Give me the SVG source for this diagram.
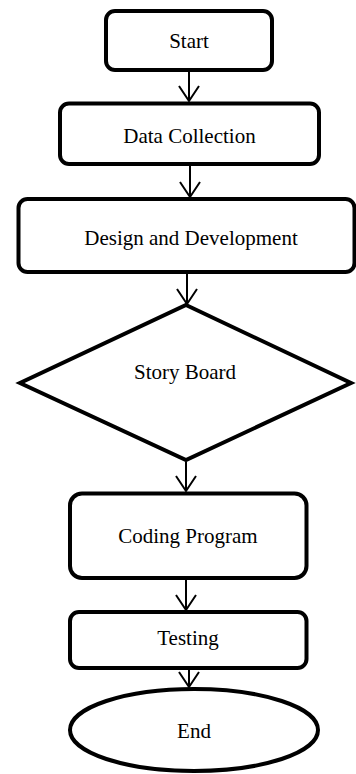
<svg xmlns="http://www.w3.org/2000/svg" width="356" height="774" viewBox="0 0 356 774">
  <style>
    .box { fill: #ffffff; stroke: #000000; stroke-width: 4; }
    .lbl { font-family: "Liberation Serif", "Times New Roman", serif; font-size: 21px; fill: #000000; text-anchor: middle; }
    .edge { fill: none; stroke: #000000; stroke-width: 2; }
  </style>
  <defs>
    <marker id="vhead" markerUnits="userSpaceOnUse" markerWidth="22" markerHeight="24" viewBox="0 0 22 24" refX="17" refY="11" orient="auto">
      <path d="M2,1 L17,11 L2,21" fill="none" stroke="#000000" stroke-width="2"/>
    </marker>
  </defs>
  <rect width="356" height="774" fill="#ffffff"/>

  <g id="connectors">
    <line class="edge" x1="189" y1="72" x2="189" y2="101" marker-end="url(#vhead)"/>
    <line class="edge" x1="190" y1="166" x2="190" y2="197" marker-end="url(#vhead)"/>
    <line class="edge" x1="187" y1="274" x2="187" y2="304" marker-end="url(#vhead)"/>
    <line class="edge" x1="186" y1="462" x2="186" y2="491" marker-end="url(#vhead)"/>
    <line class="edge" x1="186" y1="580" x2="186" y2="610" marker-end="url(#vhead)"/>
    <line class="edge" x1="189" y1="670" x2="189" y2="687" marker-end="url(#vhead)"/>
  </g>

  <g id="start">
    <rect class="box" x="106" y="11" width="166" height="59" rx="9"/>
    <text class="lbl" x="189" y="48">Start</text>
  </g>

  <g id="data-collection">
    <rect class="box" x="60" y="103.5" width="259" height="60.5" rx="9"/>
    <text class="lbl" x="189.5" y="143">Data Collection</text>
  </g>

  <g id="design-development">
    <rect class="box" x="18.5" y="199" width="336" height="73" rx="9"/>
    <text class="lbl" x="191" y="245">Design and Development</text>
  </g>

  <g id="story-board">
    <polygon class="box" points="186,305 351,383 186,460 20,383" stroke-linejoin="miter"/>
    <text class="lbl" x="185" y="379">Story Board</text>
  </g>

  <g id="coding-program">
    <rect class="box" x="70" y="493.5" width="236.5" height="84.5" rx="12"/>
    <text class="lbl" x="188" y="543">Coding Program</text>
  </g>

  <g id="testing">
    <rect class="box" x="70" y="612" width="236.5" height="56" rx="9"/>
    <text class="lbl" x="188" y="645">Testing</text>
  </g>

  <g id="end">
    <ellipse class="box" cx="194" cy="730" rx="124" ry="41"/>
    <text class="lbl" x="194" y="738">End</text>
  </g>
</svg>
